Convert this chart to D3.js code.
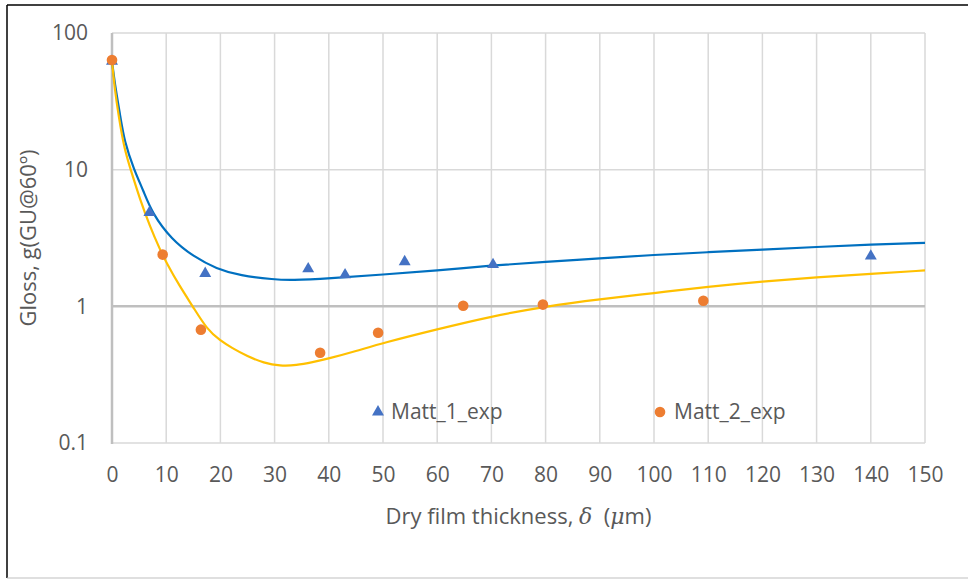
<!DOCTYPE html>
<html>
<head>
<meta charset="utf-8">
<script src="https://cdn.jsdelivr.net/npm/d3@7"></script>
<style>
  body { margin: 0; background: #fff; }
  text { font-family: "Open Sans", sans-serif; fill: #595959; }
</style>
</head>
<body>
<script>
// measured points
var matt1_x = [0, 6.9, 17.2, 36.2, 43, 54, 70.3, 140];
var matt1_y = [62, 4.85, 1.74, 1.88, 1.70, 2.12, 2.02, 2.33];
var matt2_x = [0, 9.35, 16.4, 38.4, 49.1, 64.8, 79.5, 109.1];
var matt2_y = [63.5, 2.39, 0.675, 0.458, 0.64, 1.01, 1.03, 1.10];

// fitted curves
var fit1_x = [0, 0.5, 1.5, 2.3, 4.06, 5.8, 7.4, 11, 15, 19.3, 23.6, 30, 33, 40, 50, 60, 70, 80, 90, 100, 110, 120, 130, 140, 150];
var fit1_y = [62, 43, 25, 16, 10, 7.0, 4.8, 3.08, 2.32, 1.88, 1.68, 1.57, 1.55, 1.6, 1.71, 1.83, 1.99, 2.12, 2.24, 2.38, 2.49, 2.6, 2.72, 2.83, 2.91];
var fit2_x = [0, 0.5, 1.2, 2.3, 3.45, 5.2, 7.0, 8.86, 10, 12.5, 14.9, 17.5, 20, 22, 25, 28, 31, 34, 37, 40, 45, 50, 60, 70, 80, 90, 100, 110, 120, 130, 140, 150];
var fit2_y = [62, 39, 25, 14, 10, 6.0, 3.85, 2.6, 2.1, 1.4, 1.0, 0.68, 0.56, 0.5, 0.43, 0.385, 0.366, 0.37, 0.39, 0.415, 0.47, 0.54, 0.68, 0.845, 1.0, 1.13, 1.25, 1.39, 1.52, 1.63, 1.73, 1.83];

var x_ticks = d3.range(0, 151, 10);
var y_ticks = [0.1, 1, 10, 100];
var y_tick_labels = ["0.1", "1", "10", "100"];
var series_names = ["Matt_1_exp", "Matt_2_exp"];

var W = 968, H = 579;
var margin = {top: 33, right: 43, bottom: 136, left: 112},
    width = W - margin.left - margin.right,
    height = H - margin.top - margin.bottom;
var fs = "21px";

var svg = d3.select("body").append("svg")
    .attr("width", W)
    .attr("height", H);

// chart border
svg.append("line").attr("x1", 7).attr("x2", W).attr("y1", 5).attr("y2", 5)
    .attr("stroke", "#000").attr("stroke-width", 1.5);
svg.append("line").attr("x1", 7).attr("x2", 7).attr("y1", 5).attr("y2", 578)
    .attr("stroke", "#000").attr("stroke-width", 1.5);
svg.append("line").attr("x1", 7).attr("x2", W).attr("y1", 578).attr("y2", 578)
    .attr("stroke", "#bfbfbf").attr("stroke-width", 1);

var g = svg.append("g")
    .attr("transform", "translate(" + margin.left + "," + margin.top + ")");

var x = d3.scaleLinear().domain([0, 150]).range([0, width]);
var y = d3.scaleLog().domain([0.1, 100]).range([height, 0]);

// gridlines
g.append("g").attr("class", "grid")
  .selectAll("line").data(x_ticks.filter(function(d) { return d > 0; }))
  .enter().append("line")
    .attr("x1", function(d) { return x(d); })
    .attr("x2", function(d) { return x(d); })
    .attr("y1", 0).attr("y2", height)
    .attr("stroke", "#d9d9d9").attr("stroke-width", 1.5);

g.append("g").attr("class", "grid")
  .selectAll("line").data([0.1, 10, 100])
  .enter().append("line")
    .attr("x1", 0).attr("x2", width)
    .attr("y1", function(d) { return y(d); })
    .attr("y2", function(d) { return y(d); })
    .attr("stroke", "#d9d9d9").attr("stroke-width", 1.5);

// axis lines (horizontal axis crosses at 1)
g.append("line").attr("x1", 0).attr("x2", width)
    .attr("y1", y(1)).attr("y2", y(1))
    .attr("stroke", "#bfbfbf").attr("stroke-width", 2.5);
g.append("line").attr("x1", x(0)).attr("x2", x(0))
    .attr("y1", 0).attr("y2", height + 1)
    .attr("stroke", "#bfbfbf").attr("stroke-width", 2.5);

// x axis labels
var xAxis = d3.axisBottom(x).tickValues(x_ticks).tickSize(0).tickPadding(0);
var gx = g.append("g").attr("transform", "translate(0," + height + ")").call(xAxis);
gx.select(".domain").remove();
gx.selectAll("text").attr("y", 39).attr("dy", 0)
    .style("font-size", fs).style("fill", "#595959");

// y axis labels
var yAxis = d3.axisLeft(y).tickValues(y_ticks)
    .tickFormat(function(d, i) { return y_tick_labels[i]; })
    .tickSize(0).tickPadding(24);
var gy = g.append("g").call(yAxis);
gy.select(".domain").remove();
gy.selectAll("text").style("font-size", fs).style("fill", "#595959");

// fitted curves
var line = d3.line()
    .x(function(d) { return x(d[0]); })
    .y(function(d) { return y(d[1]); })
    .curve(d3.curveBasis);

g.append("path")
    .datum(d3.zip(fit1_x, fit1_y))
    .attr("fill", "none").attr("stroke", "#0070c0").attr("stroke-width", 2.2)
    .attr("d", line);
g.append("path")
    .datum(d3.zip(fit2_x, fit2_y))
    .attr("fill", "none").attr("stroke", "#ffc000").attr("stroke-width", 2.2)
    .attr("d", line);

// markers
var tri = d3.symbol().type(d3.symbolTriangle).size(62);
g.selectAll(".tri")
  .data(d3.zip(matt1_x, matt1_y))
  .enter().append("path")
    .attr("class", "tri")
    .attr("d", tri)
    .attr("transform", function(d) { return "translate(" + x(d[0]) + "," + y(d[1]) + ")"; })
    .attr("fill", "#4472c4");

g.selectAll(".dot")
  .data(d3.zip(matt2_x, matt2_y))
  .enter().append("circle")
    .attr("class", "dot")
    .attr("cx", function(d) { return x(d[0]); })
    .attr("cy", function(d) { return y(d[1]); })
    .attr("r", 5.3)
    .attr("fill", "#ed7d31");

// legend
var leg = svg.append("g");
leg.append("path").attr("d", tri)
    .attr("transform", "translate(378,412)").attr("fill", "#4472c4");
leg.append("text").attr("x", 391).attr("y", 412).attr("dy", "0.35em")
    .style("font-size", fs).text(series_names[0]);
leg.append("circle").attr("cx", 660).attr("cy", 412).attr("r", 5.3).attr("fill", "#ed7d31");
leg.append("text").attr("x", 674).attr("y", 412).attr("dy", "0.35em")
    .style("font-size", fs).text(series_names[1]);

// axis titles
var xt = svg.append("text")
    .attr("x", margin.left + width / 2).attr("y", 524)
    .attr("text-anchor", "middle")
    .style("font-size", "22px");
xt.append("tspan").text("Dry film thickness, ");
xt.append("tspan").style("font-style", "italic").style("font-family", "DejaVu Serif").text("\u03b4");
xt.append("tspan").text("\u00a0 (");
xt.append("tspan").style("font-style", "italic").style("font-family", "DejaVu Serif").text("\u03bc");
xt.append("tspan").text("m)");

svg.append("text")
    .attr("transform", "translate(36," + (margin.top + height / 2) + ") rotate(-90)")
    .attr("text-anchor", "middle")
    .style("font-size", "22px")
    .text("Gloss, g(GU@60\u00ba)");
</script>
</body>
</html>
